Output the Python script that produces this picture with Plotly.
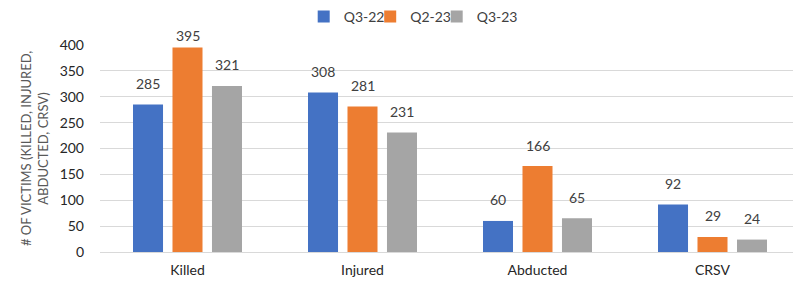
import plotly.graph_objects as go

categories = ["Killed", "Injured", "Abducted", "CRSV"]
series_names = ["Q3-22", "Q2-23", "Q3-23"]
q3_22 = [285, 308, 60, 92]
q2_23 = [395, 281, 166, 29]
q3_23 = [321, 231, 65, 24]
colors = ["#4472C4", "#ED7D31", "#A5A5A5"]
y_ticks = [0, 50, 100, 150, 200, 250, 300, 350, 400]

# page body has an 8px default margin
W, H = 793, 273
M_L, M_R, M_T, M_B = 92, 1, 37, 29
Y_MAX = 400
plot_h = H - M_T - M_B
px_per_unit = plot_h / Y_MAX
BAR_PITCH = 39.5
legend_ids = ["legend", "legend2", "legend3"]
legend_x = [0.291, 0.386, 0.481]

fig = go.Figure()
annotations = []
legend_layout = {}
for i, (name, vals, c) in enumerate(zip(series_names, [q3_22, q2_23, q3_23], colors)):
    fig.add_trace(go.Bar(
        x=categories, y=vals, name=name, marker=dict(color=c, line=dict(width=0)),
        legend=legend_ids[i],
    ))
    legend_layout[legend_ids[i]] = dict(
        orientation="h", x=legend_x[i], xanchor="left", y=1 - 9 / H, yanchor="middle",
        yref="container", font=dict(size=14, color="#404040"), itemwidth=30,
        bgcolor="rgba(0,0,0,0)",
    )
    for cat, v in zip(categories, vals):
        shift = min(21, (Y_MAX - v) * px_per_unit + 10)
        annotations.append(dict(
            x=cat, y=v, xref="x", yref="y", text=str(v), showarrow=False,
            xshift=(i - 1) * BAR_PITCH, yshift=shift,
            font=dict(size=14, color="#404040"),
        ))

fig.update_layout(
    width=W, height=H,
    margin=dict(l=M_L, r=M_R, t=M_T, b=M_B),
    paper_bgcolor="white", plot_bgcolor="white",
    barmode="group", bargap=0.323, bargroupgap=0.24,
    font=dict(family="Lato, Liberation Sans, sans-serif", size=14, color="#404040"),
    showlegend=True,
    annotations=annotations,
    **legend_layout,
)
fig.update_yaxes(range=[0, Y_MAX], tickvals=y_ticks, showgrid=True, gridcolor="#D9D9D9",
                 gridwidth=1, zeroline=True, zerolinecolor="#D9D9D9", zerolinewidth=1,
                 tickfont=dict(size=14, color="#262626"), automargin=False,
                 ticklabelstandoff=15,
                 title=dict(text="# OF VICTIMS (KILLED, INJURED,<br>ABDUCTED, CRSV)",
                            font=dict(size=13, color="#595959"), standoff=8))
fig.update_xaxes(showline=False, tickfont=dict(size=14, color="#262626"), ticks="",
                 automargin=False, ticklabelstandoff=8)
fig.write_html("out.html")
